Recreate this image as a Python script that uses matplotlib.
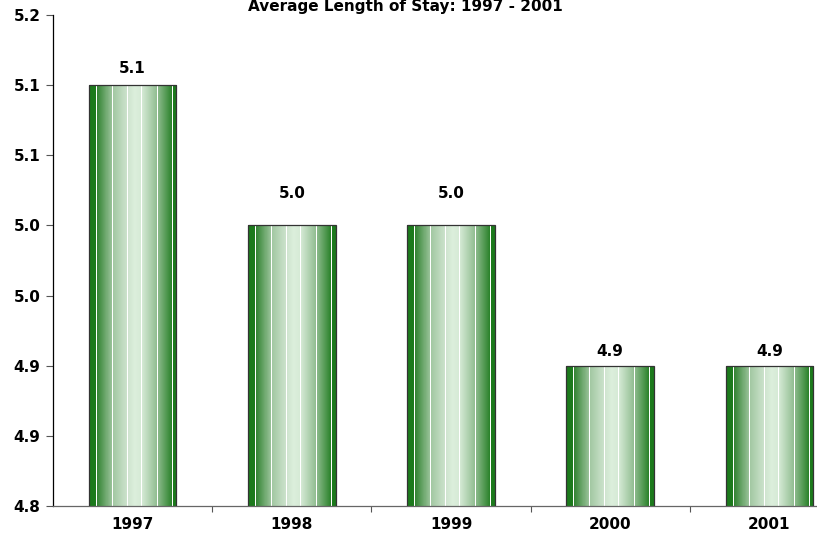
import numpy as np
import matplotlib
matplotlib.use("Agg")
import matplotlib.pyplot as plt
from matplotlib.colors import LinearSegmentedColormap, to_rgb
from matplotlib.ticker import FixedLocator, FormatStrFormatter

# data
years = ["1997", "1998", "1999", "2000", "2001"]
avg_stay = [5.143, 5.029, 5.029, 4.914, 4.914]
label_offset_px = [16, 31, 31, 15, 15]   # where the value labels sit above bars

y_min, y_max = 4.8, 5.2
n_yticks = 8

# --------------
# gradient profile for the "glass" green bars
# --------------
stops = [(0.00, "#1c7a1c"), (0.08, "#1c7a1c"), (0.09, "#358535"),
         (0.27, "#a2c8a2"), (0.44, "#cfe4cf"), (0.52, "#dcefdc"),
         (0.60, "#d6eAd6"), (0.78, "#90bd90"), (0.95, "#2a822a"),
         (0.96, "#1c7a1c"), (1.00, "#1c7a1c")]
cmap = LinearSegmentedColormap.from_list("glass", [(p, to_rgb(c)) for p, c in stops])

xs = np.linspace(0, 1, 88)
prof = cmap(xs)[:, :3]
# thin white stripes
for s in [0.083, 0.265, 0.436, 0.598, 0.78, 0.958]:
    prof[np.argmin(np.abs(xs - s))] = [1, 1, 1]
grad_img = prof[np.newaxis, :, :]

fig = plt.figure(figsize=(8.17, 5.35), dpi=100)
W, H = 817, 535
ax = fig.add_axes([53 / W, 1 - 506 / H, (849 - 53) / W, (506 - 15) / H])

x = np.arange(len(years))
bars = ax.bar(x, avg_stay, width=0.55, bottom=0, color="none",
              edgecolor="#333333", linewidth=0.9, zorder=3)

for b in bars:
    x0, w, h = b.get_x(), b.get_width(), b.get_height()
    im = ax.imshow(grad_img, extent=(x0, x0 + w, y_min, h), aspect="auto",
                   interpolation="nearest", zorder=2)
    im.set_clip_path(b)

for xi, v, off in zip(x, avg_stay, label_offset_px):
    ax.annotate("%.1f" % v, (xi, v), xytext=(0, off), textcoords="offset pixels",
                ha="center", va="center", fontsize=11, fontweight="bold")

ax.set_xlim(-0.5, len(years) - 0.5)
ax.set_ylim(y_min, y_max)
ax.set_yticks(np.linspace(y_min, y_max, n_yticks))
ax.yaxis.set_major_formatter(FormatStrFormatter("%.1f"))
ax.set_xticks(x)
ax.set_xticklabels(years)
ax.xaxis.set_minor_locator(FixedLocator(np.arange(0.5, len(years), 1.0)))
ax.tick_params(axis="x", which="major", length=0, pad=8)
ax.tick_params(axis="x", which="minor", length=4, color="#555555", width=0.8)
ax.tick_params(axis="y", length=5, color="#555555", width=0.8, pad=4)
for lab in ax.get_xticklabels() + ax.get_yticklabels():
    lab.set_fontsize(11)
    lab.set_fontweight("bold")

ax.spines["top"].set_visible(False)
ax.spines["right"].set_visible(False)
ax.spines["left"].set_color("#000000")
ax.spines["bottom"].set_color("#666666")
ax.spines["left"].set_linewidth(0.9)
ax.spines["bottom"].set_linewidth(0.9)

fig.text(405 / W, 1 - 7 / H, "Average Length of Stay: 1997 - 2001",
         ha="center", va="center", fontsize=11, fontweight="bold")

fig.savefig("out.png", dpi=100)
